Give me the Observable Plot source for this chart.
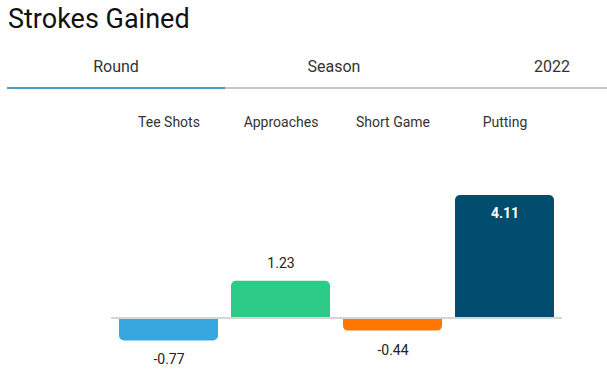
<!DOCTYPE html>
<html><head><meta charset="utf-8">
<script src="https://cdn.jsdelivr.net/npm/d3@7"></script>
<script src="https://cdn.jsdelivr.net/npm/@observablehq/plot@0.6"></script>
<style>
body{margin:0;background:#fff;font-family:Roboto,"Noto Sans",sans-serif;}
#wrap{position:relative;width:607px;height:375px;overflow:hidden;}
#title{position:absolute;left:8px;top:1px;font-size:27px;line-height:36px;color:#111;white-space:nowrap;}
#tabs{position:absolute;left:7px;top:53px;width:600px;height:34px;border-bottom:2px solid #c8c8c8;display:flex;}
.tab{flex:0 0 218px;text-align:center;font-size:16px;line-height:28px;color:#333;position:relative;white-space:nowrap;}
.tab.active::after{content:"";position:absolute;left:0;right:0;bottom:-2px;height:2px;background:#4a9fc9;}
#chart{position:absolute;left:0;top:100px;}
</style>
</head><body>
<div id="wrap">
  <div id="title">Strokes Gained</div>
  <div id="tabs"></div>
  <div id="chart"></div>
</div>
<script>
const title = "Strokes Gained";
const tabs = ["Round", "Season", "2022"];
const categories = ["Tee Shots", "Approaches", "Short Game", "Putting"];
const values = [-0.77, 1.23, -0.44, 4.11];
const colors = ["#38a7e0", "#2ccc88", "#ff7700", "#004d70"];

const tabsEl = document.getElementById("tabs");
tabs.forEach((t, i) => {
  const d = document.createElement("div");
  d.className = "tab" + (i === 0 ? " active" : "");
  d.textContent = t;
  tabsEl.appendChild(d);
});

const data = categories.map((c, i) => ({cat: c, v: values[i]}));
const maxV = d3.max(values);
const fmt = v => v.toFixed(2);

const chart = Plot.plot({
  width: 607,
  height: 275,
  marginLeft: 111,
  marginRight: 45,
  marginTop: 83.4,
  marginBottom: 12.8,
  style: {fontFamily: "Roboto, sans-serif", fontSize: "14px", color: "#333", background: "transparent"},
  x: {domain: categories, paddingInner: 0.12, paddingOuter: 0.06, axis: null},
  y: {domain: [-1.5, 4.5], axis: null},
  color: {domain: categories, range: colors},
  marks: [
    Plot.axisX({anchor: "top", tickSize: 0, tickPadding: 57, fontSize: 14, label: null}),
    Plot.barY(data, {x: "cat", y: "v", fill: "cat", rx: 5}),
    Plot.barY(data, {x: "cat", y1: 0, y2: d => d.v / 2, fill: "cat"}),
    Plot.ruleY([0], {stroke: "#d6d6d6", strokeWidth: 2}),
    Plot.text(data.filter(d => d.v > 0 && d.v !== maxV), {x: "cat", y: "v", text: d => fmt(d.v), dy: -18, fill: "#222", fontSize: 14}),
    Plot.text(data.filter(d => d.v === maxV), {x: "cat", y: "v", text: d => fmt(d.v), dy: 18, fill: "#fff", fontWeight: "bold", fontSize: 14}),
    Plot.text(data.filter(d => d.v < 0), {x: "cat", y: "v", text: d => fmt(d.v), dy: 19, fill: "#222", fontSize: 14})
  ]
});
document.getElementById("chart").appendChild(chart);
</script>
</body></html>
